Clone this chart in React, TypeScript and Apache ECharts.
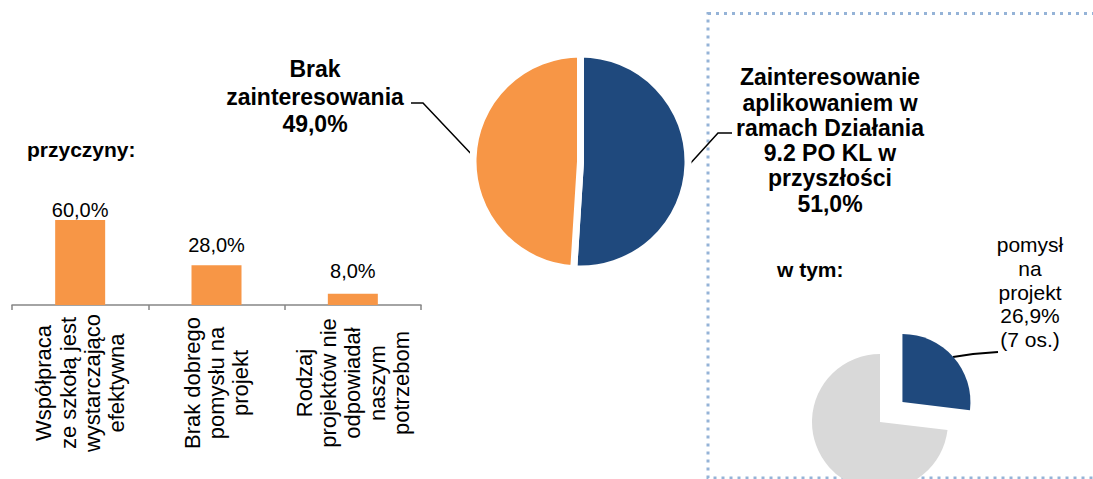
import React, { useEffect, useRef } from "react";
import * as echarts from "echarts";

const reasonCategories = [
  "Współpraca\nze szkołą jest\nwystarczająco\nefektywna",
  "Brak dobrego\npomysłu na\nprojekt",
  "Rodzaj\nprojektów nie\nodpowiadał\nnaszym\npotrzebom",
];
const reasonValues = [60.0, 28.0, 8.0];

const interestNames = [
  "Zainteresowanie\naplikowaniem w\nramach Działania\n9.2 PO KL w\nprzyszłości",
  "Brak\nzainteresowania",
];
const interestValues = [51.0, 49.0];

const ideaNames = ["pomysł\nna\nprojekt", "pozostali"];
const ideaValues = [26.9, 73.1];
const ideaCounts = [7, 19];

const FONT = "'Liberation Sans', Arial, sans-serif";
const BLUE = "#1F497D";
const ORANGE = "#F79646";
const GREY = "#D9D9D9";
const NONE = "rgba(0,0,0,0)";

const fmtPct = (v: number) => v.toFixed(1).replace(".", ",") + "%";

export default function App() {
  const ref = useRef<HTMLDivElement>(null);
  useEffect(() => {
    if (!ref.current) return;
    const chart = echarts.init(ref.current, undefined, { renderer: "svg" });
    const barLabelDistance = [0, 10, 13];
    const bigLabelLayouts = [
      {
        x: 830,
        y: 140.5,
        align: "center",
        verticalAlign: "middle",
        labelLinePoints: [
          [688, 166],
          [718, 133],
          [732, 133],
        ],
      },
      {
        x: 315,
        y: 96.5,
        align: "center",
        verticalAlign: "middle",
        labelLinePoints: [
          [475, 158],
          [423, 103],
          [411, 103],
        ],
      },
    ];
    const bigLineHeights = [25.3, 27.5];

    // small pie: the first slice is pulled out along its bisector
    const smallCenter = [880, 422];
    const explode = 30;
    const total = ideaValues.reduce((a, b) => a + b, 0);
    const midDeg = 90 - ((ideaValues[0] / total) * 360) / 2;
    const midRad = (midDeg * Math.PI) / 180;
    const explodedCenter = [
      smallCenter[0] + explode * Math.cos(midRad),
      smallCenter[1] - explode * Math.sin(midRad),
    ];

    const smallPieBase = {
      type: "pie",
      radius: 68,
      startAngle: 90,
      clockwise: true,
      avoidLabelOverlap: false,
      silent: true,
      emphasis: { disabled: true },
    };

    const option: any = {
      animation: false,
      backgroundColor: "#fff",
      textStyle: { fontFamily: FONT },
      grid: { left: 12, right: 672, top: 163.3, bottom: 174 },
      xAxis: {
        type: "category",
        data: reasonCategories,
        axisLine: { lineStyle: { color: "#868686", width: 1.5 } },
        axisTick: { show: true, length: 5, lineStyle: { color: "#868686", width: 1.5 } },
        axisLabel: {
          interval: 0,
          rotate: 90,
          align: "center",
          verticalAlign: "middle",
          margin: 78,
          fontSize: 22,
          lineHeight: 24.3,
          color: "#000",
          fontFamily: FONT,
        },
      },
      yAxis: { type: "value", min: 0, max: 100, show: false },
      graphic: [
        {
          type: "rect",
          z: 0,
          shape: { x: 708, y: 13.5, width: 500, height: 464.5 },
          style: { fill: "none", stroke: "#95B3D7", lineWidth: 3, lineDash: [3, 5] },
        },
        {
          type: "text",
          left: 27,
          top: 139,
          style: { text: "przyczyny:", font: `bold 21px ${FONT}`, fill: "#000" },
        },
        {
          type: "text",
          left: 777,
          top: 259,
          style: { text: "w tym:", font: `bold 21px ${FONT}`, fill: "#000" },
        },
      ],
      series: [
        {
          type: "bar",
          data: reasonValues.map((v, i) => ({
            value: v,
            label: { distance: barLabelDistance[i] },
          })),
          barWidth: 50,
          itemStyle: { color: ORANGE },
          label: {
            show: true,
            position: "top",
            fontSize: 20,
            color: "#000",
            fontFamily: FONT,
            formatter: (p: any) => fmtPct(p.value),
          },
        },
        {
          type: "pie",
          center: [580.5, 161.5],
          radius: 107.5,
          startAngle: 90,
          clockwise: true,
          avoidLabelOverlap: false,
          itemStyle: { borderColor: "#fff", borderWidth: 7 },
          data: interestValues.map((v, i) => ({
            value: v,
            name: interestNames[i],
            itemStyle: { color: i === 0 ? BLUE : ORANGE },
            label: { lineHeight: bigLineHeights[i] },
          })),
          label: {
            show: true,
            position: "outside",
            color: "#000",
            fontWeight: "bold",
            fontSize: 23,
            fontFamily: FONT,
            align: "center",
            formatter: (p: any) => `${p.name}\n${fmtPct(p.value)}`,
          },
          labelLine: { show: true, lineStyle: { color: "#000", width: 1.5 } },
          labelLayout: (p: any) => bigLabelLayouts[p.dataIndex],
          emphasis: { disabled: true },
        },
        {
          ...smallPieBase,
          center: smallCenter,
          data: ideaValues.map((v, i) => ({
            value: v,
            name: ideaNames[i],
            itemStyle: { color: i === 0 ? NONE : GREY },
            label: { show: false },
            labelLine: { show: false },
          })),
        },
        {
          ...smallPieBase,
          center: explodedCenter,
          data: ideaValues.map((v, i) => ({
            value: v,
            name: ideaNames[i],
            itemStyle: { color: i === 0 ? BLUE : NONE },
            label: { show: i === 0 },
            labelLine: { show: i === 0 },
          })),
          label: {
            position: "outside",
            color: "#000",
            fontSize: 21,
            lineHeight: 23.75,
            fontFamily: FONT,
            align: "center",
            formatter: (p: any) =>
              `${p.name}\n${fmtPct(p.value)}\n(${ideaCounts[p.dataIndex]} os.)`,
          },
          labelLine: { lineStyle: { color: "#000", width: 2 } },
          labelLayout: (p: any) =>
            p.dataIndex === 0
              ? {
                  x: 1030,
                  y: 292,
                  align: "center",
                  verticalAlign: "middle",
                  labelLinePoints: [
                    [953, 357],
                    [973, 354],
                    [998, 352],
                  ],
                }
              : {},
        },
      ],
    };
    chart.setOption(option);
    return () => chart.dispose();
  }, []);
  return (
    <div
      ref={ref}
      style={{ position: "fixed", left: 0, top: 0, width: 1093, height: 479 }}
    />
  );
}
